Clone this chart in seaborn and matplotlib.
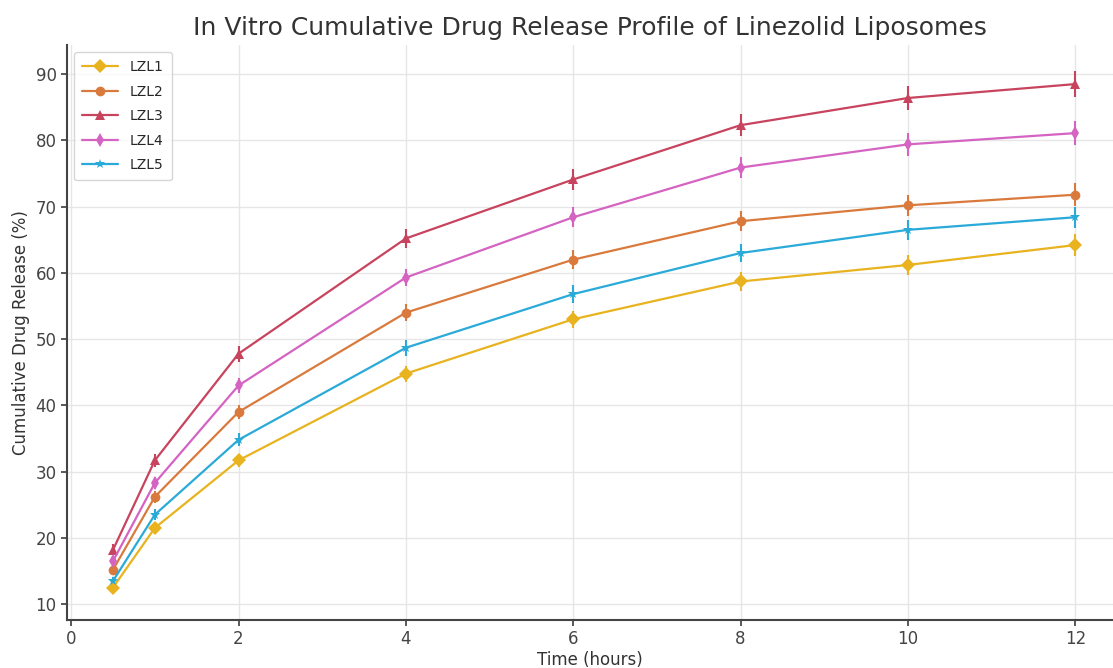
import matplotlib
matplotlib.use("Agg")
import matplotlib.pyplot as plt
import seaborn as sns
import pandas as pd

time_h = [0.5, 1, 2, 4, 6, 8, 10, 12]
lzl1 = [12.5, 21.5, 31.7, 44.8, 53.0, 58.7, 61.2, 64.2]
lzl2 = [15.2, 26.2, 39.0, 54.0, 62.0, 67.8, 70.2, 71.8]
lzl3 = [18.2, 31.7, 47.8, 65.2, 74.1, 82.3, 86.4, 88.5]
lzl4 = [16.5, 28.3, 43.0, 59.3, 68.4, 75.9, 79.4, 81.1]
lzl5 = [13.5, 23.5, 34.8, 48.7, 56.8, 63.0, 66.5, 68.4]
err1 = [0.6, 0.8, 1.0, 1.2, 1.3, 1.4, 1.5, 1.6]
err2 = [0.7, 0.9, 1.1, 1.3, 1.4, 1.5, 1.6, 1.7]
err3 = [0.8, 1.0, 1.2, 1.4, 1.6, 1.7, 1.8, 1.9]
err4 = [0.7, 0.9, 1.1, 1.3, 1.5, 1.6, 1.7, 1.8]
err5 = [0.6, 0.8, 1.0, 1.2, 1.3, 1.4, 1.5, 1.6]

names = ["LZL1", "LZL2", "LZL3", "LZL4", "LZL5"]
values = [lzl1, lzl2, lzl3, lzl4, lzl5]
errors = [err1, err2, err3, err4, err5]
colors = ["#E8B31E", "#D97A3C", "#C8435E", "#D463C2", "#2AAAD8"]
markers = ["D", "o", "^", "d", "*"]

rows = []
for n, v, e in zip(names, values, errors):
    for t, y, s in zip(time_h, v, e):
        rows.append({"Time": t, "Release": y, "Err": s, "Formulation": n})
df = pd.DataFrame(rows)

sns.set_theme(style="whitegrid")
plt.rcParams["font.family"] = ["DejaVu Sans"]

fig = plt.figure(figsize=(11.13, 6.68), dpi=100)
ax = fig.add_axes([67/1113, 48/668, 1046/1113, 575/668])

for n, c, m in zip(names, colors, markers):
    sub = df[df["Formulation"] == n]
    ax.errorbar(sub["Time"], sub["Release"], yerr=sub["Err"], fmt="none",
                ecolor=c, elinewidth=1.5, capsize=0, zorder=2)
sns.lineplot(data=df, x="Time", y="Release", hue="Formulation", style="Formulation",
             palette=dict(zip(names, colors)), markers=dict(zip(names, markers)),
             dashes=False, markersize=7, markeredgewidth=0, linewidth=1.6, ax=ax, zorder=3)

ax.set_xlim(-0.05, 12.45)
ax.set_ylim(7.6, 94.4)
ax.set_xticks([0, 2, 4, 6, 8, 10, 12])
ax.set_yticks([10, 20, 30, 40, 50, 60, 70, 80, 90])
ax.grid(True, color="#e6e6e6", linewidth=1)
for s in ["top", "right"]:
    ax.spines[s].set_visible(False)
for s in ["left", "bottom"]:
    ax.spines[s].set_color("#444444")
    ax.spines[s].set_linewidth(1.5)
ax.tick_params(axis="both", labelsize=12, colors="#444444", length=4, left=True, bottom=True)
ax.set_xlabel("Time (hours)", fontsize=12, color="#333333", labelpad=2)
ax.set_ylabel("Cumulative Drug Release (%)", fontsize=12, color="#333333")
ax.set_title("In Vitro Cumulative Drug Release Profile of Linezolid Liposomes",
             fontsize=18, color="#333333", pad=7)
leg = ax.legend(loc="upper left", fontsize=10, frameon=True, borderpad=0.6,
                handlelength=2.6, labelspacing=0.75)
leg.set_title(None)

fig.savefig("out.png", dpi=100)
